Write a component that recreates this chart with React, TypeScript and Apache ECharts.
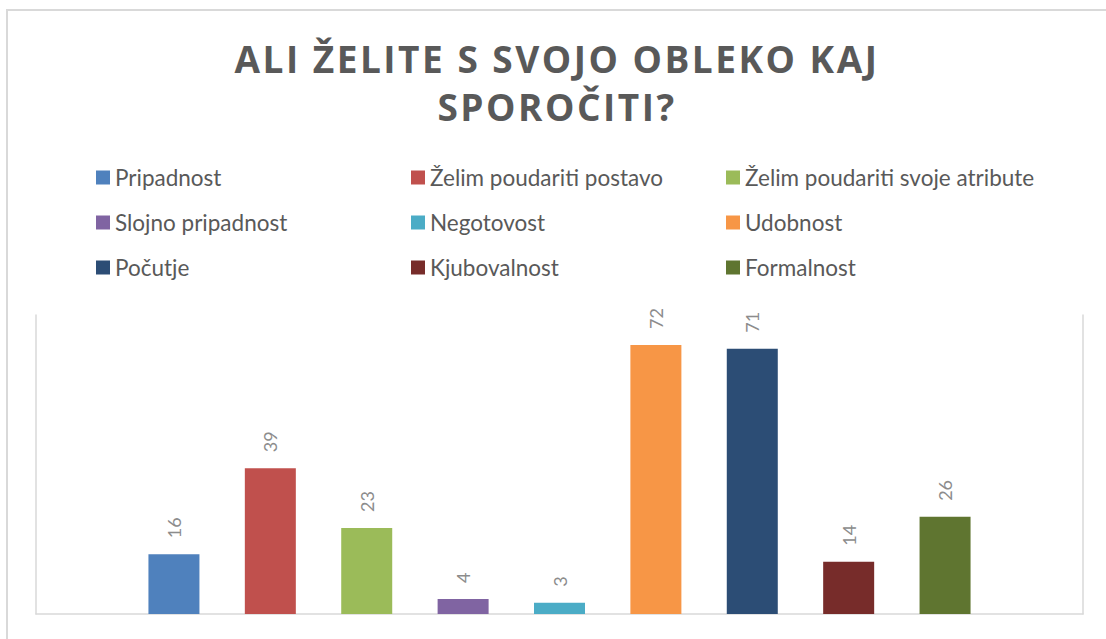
import React, { useEffect, useRef } from "react";
import * as echarts from "echarts";

const titleLines = ["ALI ŽELITE S SVOJO OBLEKO KAJ", "SPOROČITI?"];
const categories = [""];
const seriesNames = [
  "Pripadnost",
  "Želim poudariti postavo",
  "Želim poudariti svoje atribute",
  "Slojno pripadnost",
  "Negotovost",
  "Udobnost",
  "Počutje",
  "Kjubovalnost",
  "Formalnost",
];
const seriesValues = [16, 39, 23, 4, 3, 72, 71, 14, 26];
const seriesColors = [
  "#4F81BD",
  "#C0504D",
  "#9BBB59",
  "#8064A2",
  "#4BACC6",
  "#F79646",
  "#2C4D75",
  "#772C2A",
  "#5F7530",
];
const legendColumns = [
  ["Pripadnost", "Slojno pripadnost", "Počutje"],
  ["Želim poudariti postavo", "Negotovost", "Kjubovalnost"],
  ["Želim poudariti svoje atribute", "Udobnost", "Formalnost"],
];
const legendLefts = [96, 411, 726];

export default function App() {
  const ref = useRef<HTMLDivElement>(null);
  useEffect(() => {
    if (!ref.current) return;
    const chart = echarts.init(ref.current, null, { renderer: "svg" });
    const option: any = {
      animation: false,
      backgroundColor: "#ffffff",
      title: {
        text: titleLines.join("\n"),
        left: 557,
        top: 34,
        padding: 0,
        textAlign: "center",
        textStyle: {
          fontFamily: "Open Sans",
          fontWeight: "bold",
          fontSize: 37,
          lineHeight: 48,
          color: "#595959",
        },
      },
      legend: legendColumns.map((col, i) => ({
        data: col,
        orient: "vertical",
        left: legendLefts[i],
        top: 166,
        padding: 0,
        itemWidth: 14,
        itemHeight: 14,
        itemGap: 22,
        icon: "rect",
        selectedMode: false,
        textStyle: {
          fontFamily: "Lato",
          fontSize: 22.5,
          lineHeight: 22,
          color: "#595959",
        },
      })),
      grid: {
        left: 36,
        right: 23,
        top: 315,
        bottom: 25,
        containLabel: false,
      },
      xAxis: {
        type: "category",
        data: categories,
        axisLine: { show: true, lineStyle: { color: "#d9d9d9", width: 1.5 } },
        axisTick: { show: false },
        axisLabel: { show: false },
        splitLine: { show: false },
      },
      yAxis: [
        {
          type: "value",
          min: 0,
          max: 80,
          position: "left",
          axisLine: { show: true, lineStyle: { color: "#d9d9d9", width: 1.5 } },
          axisTick: { show: false },
          axisLabel: { show: false },
          splitLine: { show: false },
        },
        {
          type: "value",
          min: 0,
          max: 80,
          position: "right",
          axisLine: { show: true, lineStyle: { color: "#d9d9d9", width: 1.5 } },
          axisTick: { show: false },
          axisLabel: { show: false },
          splitLine: { show: false },
        },
      ],
      graphic: [
        {
          type: "rect",
          shape: { x: 7, y: 10, width: 1300, height: 800 },
          style: { fill: "none", stroke: "#d9d9d9", lineWidth: 2 },
          silent: true,
        },
      ],
      series: seriesNames.map((name, i) => ({
        name,
        type: "bar",
        data: [seriesValues[i]],
        barWidth: 51,
        barGap: "89%",
        itemStyle: { color: seriesColors[i] },
        label: {
          show: true,
          position: "top",
          rotate: 90,
          align: "left",
          verticalAlign: "middle",
          distance: 16,
          fontFamily: "Lato",
          fontSize: 18,
          color: "#8c8c8c",
        },
      })),
    };
    chart.setOption(option);
    return () => chart.dispose();
  }, []);
  return (
    <>
      <style>{`text[style*="Open Sans"]{letter-spacing:2.5px;}`}</style>
      <div
        ref={ref}
        style={{ position: "absolute", left: 0, top: 0, width: 1106, height: 639 }}
      />
    </>
  );
}
